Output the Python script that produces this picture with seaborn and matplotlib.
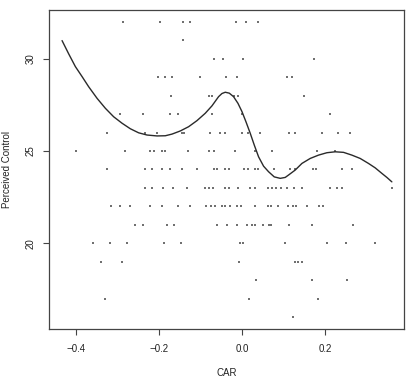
import numpy as np
import pandas as pd

import matplotlib
matplotlib.use("Agg")
import matplotlib.pyplot as plt
import seaborn as sns


# points, one list of CAR values per Perceived Control score
car_32 = [-0.287, -0.198, -0.142, -0.126, -0.014, 0.010, 0.039]
car_31 = [-0.144]
car_30 = [-0.067, -0.046, 0.001, 0.173]
car_29 = [-0.204, -0.186, -0.170, -0.102, -0.039, -0.012, 0.107, 0.119]
car_28 = [-0.172, -0.080, -0.072, -0.020, -0.010, 0.150]
car_27 = [-0.296, -0.239, -0.174, -0.154, -0.072, -0.001, 0.211]
car_26 = [-0.326, -0.234, -0.205, -0.145, -0.141, -0.077, -0.053, -0.041,
          -0.001, 0.015, 0.043, 0.112, 0.128, 0.192, 0.232, 0.260]
car_25 = [-0.402, -0.282, -0.222, -0.214, -0.193, -0.186, -0.130, -0.081,
          -0.069, -0.017, 0.031, 0.072, 0.180, 0.224]
car_24 = [-0.326, -0.234, -0.218, -0.194, -0.174, -0.145, -0.109, -0.069,
          -0.061, -0.041, -0.033, 0.003, 0.015, 0.031, 0.039, 0.077, 0.116,
          0.128, 0.171, 0.178, 0.240, 0.264]
car_23 = [-0.235, -0.218, -0.190, -0.166, -0.133, -0.089, -0.081, -0.070,
          -0.041, -0.031, -0.011, 0.019, 0.031, 0.063, 0.072, 0.082, 0.094,
          0.108, 0.125, 0.145, 0.212, 0.229, 0.240, 0.360]
car_22 = [-0.316, -0.295, -0.271, -0.222, -0.194, -0.154, -0.125, -0.087,
          -0.075, -0.065, -0.048, -0.041, -0.029, -0.012, -0.002, 0.031,
          0.063, 0.070, 0.087, 0.111, 0.123, 0.130, 0.155, 0.186, 0.195]
car_21 = [-0.259, -0.239, -0.181, -0.164, -0.061, -0.037, -0.013, 0.011,
          0.023, 0.031, 0.051, 0.064, 0.070, 0.112, 0.167, 0.267]
car_20 = [-0.359, -0.320, -0.278, -0.188, -0.148, -0.005, 0.002, 0.102,
          0.204, 0.251, 0.319]
car_19 = [-0.340, -0.290, -0.007, 0.128, 0.135, 0.143]
car_18 = [0.034, 0.167, 0.253]
car_17 = [-0.330, 0.016, 0.183]
car_16 = [0.123]

rows = {32: car_32, 31: car_31, 30: car_30, 29: car_29, 28: car_28,
        27: car_27, 26: car_26, 25: car_25, 24: car_24, 23: car_23,
        22: car_22, 21: car_21, 20: car_20, 19: car_19, 18: car_18,
        17: car_17, 16: car_16}

# smooth fit
curve_x = [-0.4345, -0.4185, -0.4024, -0.3863, -0.3704, -0.3501, -0.3301,
           -0.3101, -0.2899, -0.2699, -0.2499, -0.2297, -0.2055, -0.1855,
           -0.1694, -0.1494, -0.1294, -0.1092, -0.0892, -0.0731, -0.0571,
           -0.0490, -0.0410, -0.0313, -0.0210, -0.0104, -0.0007, 0.0089,
           0.0193, 0.0289, 0.0393, 0.0514, 0.0634, 0.0771, 0.0916, 0.1036,
           0.1116, 0.1277, 0.1439, 0.1639, 0.1839, 0.2041, 0.2241, 0.2442,
           0.2643, 0.2843, 0.3043, 0.3205, 0.3366, 0.3487, 0.3607]
curve_y = [30.99, 30.27, 29.58, 29.04, 28.49, 27.86, 27.32, 26.86, 26.51,
           26.21, 25.99, 25.87, 25.82, 25.83, 25.92, 26.09, 26.32, 26.65,
           27.05, 27.45, 27.95, 28.12, 28.19, 28.14, 27.95, 27.59, 27.14,
           26.59, 25.96, 25.33, 24.69, 24.18, 23.88, 23.60, 23.52, 23.57,
           23.70, 23.97, 24.33, 24.60, 24.78, 24.91, 24.96, 24.93, 24.78,
           24.60, 24.33, 24.09, 23.79, 23.57, 23.33]

x_ticks = [-0.4, -0.2, 0.0, 0.2]
y_ticks = [20, 25, 30]

points = pd.DataFrame(
    [(x, y) for y, xs in rows.items() for x in xs],
    columns=["CAR", "Perceived Control"]
)
fit = pd.DataFrame({"CAR": curve_x, "Perceived Control": curve_y})

sns.set_style("ticks")
plt.rcParams["font.family"] = ["Liberation Sans", "DejaVu Sans"]

fig = plt.figure(figsize=(4.07, 3.79), dpi=100)
ax = fig.add_axes([49 / 407, 1 - 329 / 379, 355 / 407, 319 / 379])

sns.scatterplot(data=points, x="CAR", y="Perceived Control", ax=ax,
                s=0.6, marker="s", color="#707070", linewidth=0)
sns.lineplot(data=fit, x="CAR", y="Perceived Control", ax=ax,
             color="#2a2a2a", linewidth=1.0, sort=False)

ax.set_xlim(-0.466, 0.390)
ax.set_ylim(15.35, 32.65)
ax.set_xticks(x_ticks)
ax.set_xticklabels(["\u22120.4", "\u22120.2", "0.0", "0.2"])
ax.set_yticks(y_ticks)

for side in ax.spines.values():
    side.set_color("#444444")
    side.set_linewidth(0.9)

ax.tick_params(axis="both", length=4.2, width=0.8, color="#444444",
               labelsize=7, labelcolor="#222222")
ax.tick_params(axis="x", pad=6.5)
ax.tick_params(axis="y", pad=5.5)
for lab in ax.get_yticklabels():
    lab.set_rotation(90)
    lab.set_va("center")

ax.set_xlabel("CAR", fontsize=7, color="#222222")
ax.set_ylabel("Perceived Control", fontsize=7, color="#222222")
ax.xaxis.set_label_coords(0.5, (329 - 373) / 319)
ax.xaxis.label.set_va("center")
ax.yaxis.set_label_coords((7 - 49) / 355, 0.5)
ax.yaxis.label.set_va("center")

fig.savefig("out.png", dpi=100)
